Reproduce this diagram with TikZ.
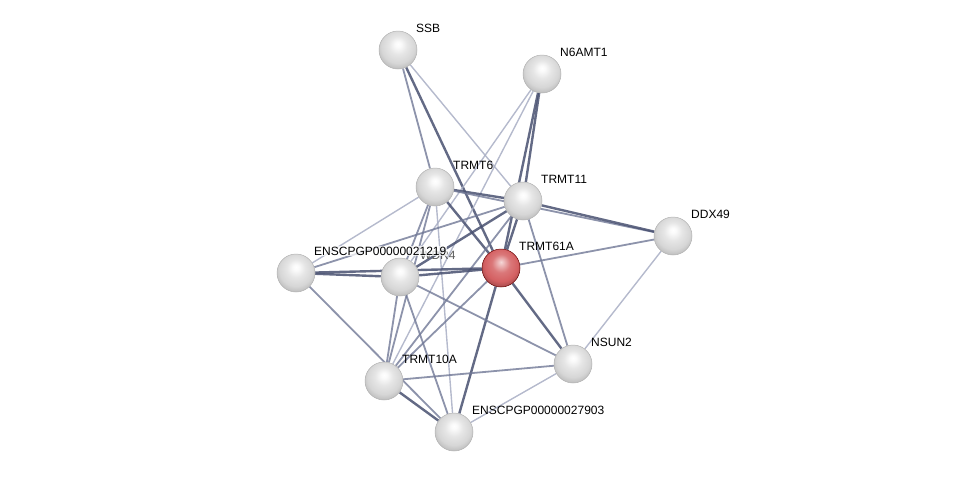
\documentclass[tikz,border=0pt]{standalone}
\usepackage{fontspec}
\setmainfont{Liberation Sans}
\usetikzlibrary{backgrounds,calc}

\definecolor{edgedark}{RGB}{72,80,112}
\definecolor{edgemid}{RGB}{112,120,150}
\definecolor{edgelight}{RGB}{168,174,196}
\definecolor{ballred}{RGB}{212,96,98}

\pgfdeclareradialshading{glassball}{\pgfpoint{0bp}{8bp}}{%
  color(0bp)=(white); color(4bp)=(white!96!gray); color(12bp)=(gray!20);
  color(22bp)=(gray!32); color(28bp)=(gray!50); color(33bp)=(gray!68); color(50bp)=(gray!70)}
\pgfdeclareradialshading{glassred}{\pgfpoint{0bp}{8bp}}{%
  color(0bp)=(ballred!25!white); color(4bp)=(ballred!45!white); color(12bp)=(ballred!85!white);
  color(22bp)=(ballred); color(28bp)=(ballred!80!black); color(33bp)=(ballred!60!black); color(50bp)=(ballred!55!black)}

\tikzset{
  protein/.style={circle, minimum size=38, inner sep=0, draw=gray!60, line width=0.5,
    shading=glassball},
  query/.style={protein, draw=red!40!black, shading=glassred},
  lbl/.style={anchor=west, inner sep=1, font=\fontsize{12}{14}\selectfont, text=black},
  strong/.style={draw=edgedark, line width=2.4, opacity=0.85},
  medium/.style={draw=edgemid, line width=1.8, opacity=0.8},
  weak/.style={draw=edgelight, line width=1.4, opacity=0.85},
}

\begin{document}
\begin{tikzpicture}[x=1pt, y=-1pt]
    \useasboundingbox (0,0) rectangle (975,477);

    % Proteins
    \node[protein] (ssb)    at (398,50)  {};
    \node[protein] (n6amt1) at (542,74)  {};
    \node[protein] (trmt6)  at (435,187) {};
    \node[protein] (trmt11) at (523,201) {};
    \node[protein] (ddx49)  at (673,236) {};
    \node[protein] (ens21)  at (296,273) {};
    \node[protein] (wdr4)   at (400,277) {};
    \node[query]   (trmt61a) at (501,268) {};
    \node[protein] (nsun2)  at (573,364) {};
    \node[protein] (trmt10a) at (384,381) {};
    \node[protein] (ens27)  at (454,432) {};

    % Interactions
    \begin{scope}[on background layer]
        \draw[medium] (ssb) -- (trmt6);
        \draw[strong] (ssb) -- (trmt61a);
        \draw[weak]   (ssb) -- (trmt11);
        \draw[strong] (n6amt1) -- (trmt11);
        \draw[strong] (n6amt1) -- (trmt61a);
        \draw[weak]   (n6amt1) -- (wdr4);
        \draw[weak]   (n6amt1) -- (trmt10a);
        \draw[strong] (trmt6) -- (trmt11);
        \draw[strong] (trmt6) -- (trmt61a);
        \draw[medium] (trmt6) -- (ddx49);
        \draw[weak]   (trmt6) -- (ens21);
        \draw[medium] (trmt6) -- (wdr4);
        \draw[medium] (trmt6) -- (trmt10a);
        \draw[weak]   (trmt6) -- (ens27);
        \draw[strong] (trmt11) -- (ddx49);
        \draw[strong] (trmt11) -- (trmt61a);
        \draw[medium] (trmt11) -- (ens21);
        \draw[strong] (trmt11) -- (wdr4);
        \draw[medium] (trmt11) -- (trmt10a);
        \draw[medium] (trmt11) -- (nsun2);
        \draw[medium] (trmt61a) -- (ddx49);
        \draw[strong] (trmt61a) -- (wdr4);
        \draw[strong] (trmt61a) -- (ens21);
        \draw[strong] (trmt61a) -- (nsun2);
        \draw[medium] (trmt61a) -- (trmt10a);
        \draw[strong] (trmt61a) -- (ens27);
        \draw[weak]   (ddx49) -- (nsun2);
        \draw[strong] (ens21) -- (wdr4);
        \draw[medium] (ens21) -- (ens27);
        \draw[medium] (wdr4) -- (trmt10a);
        \draw[medium] (wdr4) -- (nsun2);
        \draw[medium] (wdr4) -- (ens27);
        \draw[medium] (trmt10a) -- (nsun2);
        \draw[strong] (trmt10a) -- (ens27);
        \draw[weak]   (nsun2) -- (ens27);
    \end{scope}

    % Labels
    \node[lbl] (ssb-l)    at ($(ssb)+(17,-22)$)    {SSB};
    \node[lbl] (n6amt1-l) at ($(n6amt1)+(17,-22)$) {N6AMT1};
    \node[lbl] (trmt6-l)  at ($(trmt6)+(17,-22)$)  {TRMT6};
    \node[lbl] (trmt11-l) at ($(trmt11)+(17,-22)$) {TRMT11};
    \node[lbl] (ddx49-l)  at ($(ddx49)+(17,-22)$)  {DDX49};
    \node[lbl, text=gray!70!black] (wdr4-l) at ($(wdr4)+(19,-22)$) {WDR4};
    \node[lbl, fill=white, fill opacity=0.75, text opacity=1] (ens21-l) at ($(ens21)+(17,-22)$) {ENSCPGP00000021219};
    \node[lbl] (trmt61a-l) at ($(trmt61a)+(17,-22)$) {TRMT61A};
    \node[lbl] (nsun2-l)  at ($(nsun2)+(17,-22)$)  {NSUN2};
    \node[lbl] (trmt10a-l) at ($(trmt10a)+(17,-22)$) {TRMT10A};
    \node[lbl] (ens27-l)  at ($(ens27)+(17,-22)$)  {ENSCPGP00000027903};
\end{tikzpicture}
\end{document}
